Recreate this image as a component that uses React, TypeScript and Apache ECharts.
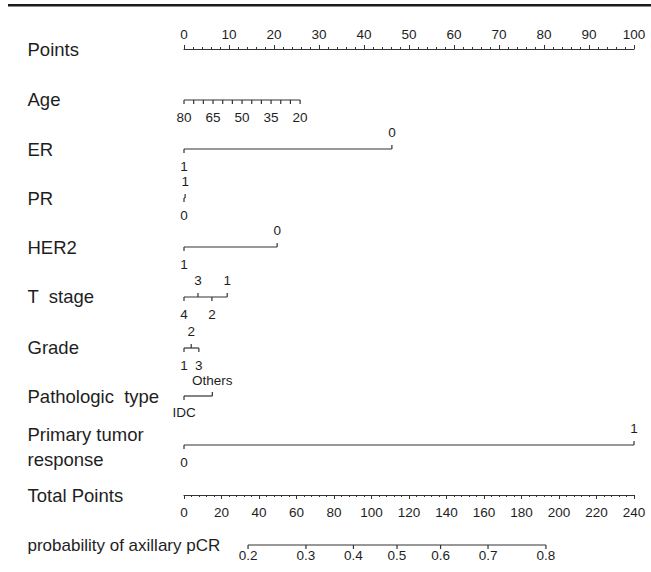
import React, { useEffect, useRef } from "react";
import * as echarts from "echarts";

// ---------- data ----------
const rowNames = [
  "Points",
  "Age",
  "ER",
  "PR",
  "HER2",
  "T  stage",
  "Grade",
  "Pathologic  type",
  "Primary tumor",
  "response",
  "Total Points",
  "probability of axillary pCR",
];

const pointsRange = [0, 100];
const pointsInterval = 10;
const totalRange = [0, 240];
const totalInterval = 20;

const ageLevels = ["80", "75", "70", "65", "60", "55", "50", "45", "40", "35", "30", "25", "20"];
const agePoints = [0, 2.15, 4.3, 6.45, 8.6, 10.75, 12.9, 15.05, 17.2, 19.35, 21.5, 23.65, 25.8];
const ageShownLabels = ["80", "65", "50", "35", "20"];

const erLevels = ["1", "0"];
const erPoints = [0, 46.2];

const prLevels = ["0", "1"];
const prPoints = [0, 0.25];

const her2Levels = ["1", "0"];
const her2Points = [0, 20.7];

const tStageLevels = ["4", "3", "2", "1"];
const tStagePoints = [0, 3.1, 6.2, 9.6];

const gradeLevels = ["1", "2", "3"];
const gradePoints = [0, 1.6, 3.3];

const pathLevels = ["IDC", "Others"];
const pathPoints = [0, 6.3];

const responseLevels = ["0", "1"];
const responsePoints = [0, 100];

const probTicks = [0.2, 0.3, 0.4, 0.5, 0.6, 0.7, 0.8];
const probCenterTotal = 113.6; // total points where probability = 0.5
const probTotalPerLogit = 57.3; // total points per logit unit

// ---------- layout (pixels) ----------
const FONT = "'Liberation Sans', Arial, Helvetica, sans-serif";
const TEXT = "#1e1e1e";
const LINE = "#333";
const labelX = 27.5;
const rowNameY = [49, 99, 149, 198, 247, 296, 347, 396, 434, 459, 495, 545];
const rowNameSize = [18.5, 18.5, 18.5, 18.5, 18.5, 18.5, 18.5, 18.5, 18.5, 18.5, 18.5, 17];
const gridLeft = 184;
const gridWidth = 450;
const lineY = {
  points: 49,
  age: 100,
  er: 149,
  pr: 198,
  her2: 247,
  t: 297,
  grade: 348,
  path: 396,
  response: 445,
  total: 495,
  prob: 545,
};

type Row = {
  y: number;
  pts: number[];
  labels: string[];
  sides: number[]; // -1 = above, 1 = below
  labelGap: number;
};

const UP = -1;
const DOWN = 1;

const toPoints = (total: number) => (total / totalRange[1]) * pointsRange[1];
const logit = (p: number) => Math.log(p / (1 - p));

const rows: Row[] = [
  {
    y: lineY.age,
    pts: agePoints,
    labels: ageLevels.map((l) => (ageShownLabels.includes(l) ? l : "")),
    sides: ageLevels.map(() => DOWN),
    labelGap: 17,
  },
  { y: lineY.er, pts: erPoints, labels: erLevels, sides: [DOWN, UP], labelGap: 17 },
  { y: lineY.pr, pts: prPoints, labels: prLevels, sides: [DOWN, UP], labelGap: 17 },
  { y: lineY.her2, pts: her2Points, labels: her2Levels, sides: [DOWN, UP], labelGap: 17 },
  { y: lineY.t, pts: tStagePoints, labels: tStageLevels, sides: [DOWN, UP, DOWN, UP], labelGap: 17 },
  { y: lineY.grade, pts: gradePoints, labels: gradeLevels, sides: [DOWN, UP, DOWN], labelGap: 17 },
  { y: lineY.path, pts: pathPoints, labels: pathLevels, sides: [DOWN, UP], labelGap: 16 },
  { y: lineY.response, pts: responsePoints, labels: responseLevels, sides: [DOWN, UP], labelGap: 17 },
  {
    y: lineY.prob,
    pts: probTicks.map((p) => toPoints(probCenterTotal + probTotalPerLogit * logit(p))),
    labels: probTicks.map((p) => p.toFixed(1)),
    sides: probTicks.map(() => DOWN),
    labelGap: 10,
  },
];

const TICK = 4;

export default function App() {
  const ref = useRef<HTMLDivElement>(null);

  useEffect(() => {
    if (!ref.current) return;
    const chart = echarts.init(ref.current, undefined, { renderer: "svg" });

    const axisCommon = {
      type: "value" as const,
      axisLine: { show: true, onZero: false, lineStyle: { color: LINE, width: 1.2 } },
      axisTick: { show: true, length: 4, lineStyle: { color: LINE, width: 1 } },
      minorTick: { show: true, splitNumber: 5, length: 2, lineStyle: { color: LINE, width: 1 } },
      splitLine: { show: false },
      minorSplitLine: { show: false },
      axisLabel: { fontSize: 13.5, color: TEXT, fontFamily: FONT },
    };

    const graphics: any[] = [
      {
        type: "rect",
        shape: { x: 8, y: 4, width: 643, height: 2.5 },
        style: { fill: "#1a1a1a" },
      },
      ...rowNames.map((name, i) => ({
        type: "text",
        x: labelX,
        y: rowNameY[i],
        style: {
          text: name,
          fontSize: rowNameSize[i],
          fontFamily: FONT,
          fill: TEXT,
          verticalAlign: "middle",
          align: "left",
        },
      })),
    ];

    chart.setOption({
      animation: false,
      backgroundColor: "#ffffff",
      grid: [
        { left: gridLeft, width: gridWidth, top: 0, height: 572 },
        { left: gridLeft, width: gridWidth, top: lineY.points, height: 20 },
        { left: gridLeft, width: gridWidth, top: lineY.total - 20, height: 20 },
      ],
      xAxis: [
        { gridIndex: 0, type: "value", min: pointsRange[0], max: pointsRange[1], show: false },
        {
          ...axisCommon,
          gridIndex: 1,
          position: "top",
          min: pointsRange[0],
          max: pointsRange[1],
          interval: pointsInterval,
          axisLabel: { ...axisCommon.axisLabel, margin: 8 },
        },
        {
          ...axisCommon,
          gridIndex: 2,
          position: "bottom",
          min: totalRange[0],
          max: totalRange[1],
          interval: totalInterval,
          axisLabel: { ...axisCommon.axisLabel, margin: 10 },
        },
      ],
      yAxis: [
        { gridIndex: 0, type: "value", min: 0, max: 572, inverse: true, show: false },
        { gridIndex: 1, type: "value", min: 0, max: 1, show: false },
        { gridIndex: 2, type: "value", min: 0, max: 1, show: false },
      ],
      graphic: graphics,
      series: [
        {
          type: "custom",
          xAxisIndex: 0,
          yAxisIndex: 0,
          clip: false,
          silent: true,
          data: rows.map((_, i) => [i]),
          renderItem: (params: any, api: any) => {
            const r = rows[api.value(0)];
            const coords = r.pts.map((p) => api.coord([p, r.y]));
            const xs = coords.map((c: number[]) => c[0]);
            const y = coords[0][1];
            const children: any[] = [
              {
                type: "line",
                shape: { x1: Math.min(...xs), y1: y, x2: Math.max(...xs), y2: y },
                style: { stroke: LINE, lineWidth: 1.2 },
              },
            ];
            xs.forEach((x: number, i: number) => {
              const s = r.sides[i];
              children.push({
                type: "line",
                shape: { x1: x, y1: y, x2: x, y2: y + s * TICK },
                style: { stroke: LINE, lineWidth: 1.2 },
              });
              if (r.labels[i]) {
                children.push({
                  type: "text",
                  x: x,
                  y: y + s * r.labelGap,
                  style: {
                    text: r.labels[i],
                    fontSize: 13.5,
                    fontFamily: FONT,
                    fill: TEXT,
                    align: "center",
                    verticalAlign: "middle",
                  },
                });
              }
            });
            return { type: "group", children };
          },
        },
      ],
    });

    return () => chart.dispose();
  }, []);

  return (
    <div
      ref={ref}
      style={{ position: "absolute", left: 0, top: 0, width: 651, height: 572 }}
    />
  );
}
